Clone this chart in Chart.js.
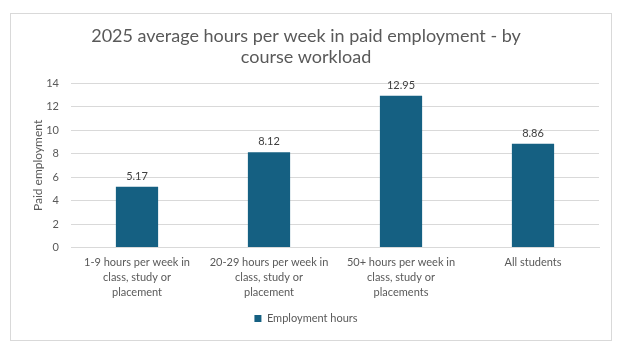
<!DOCTYPE html>
<html>
<head>
<meta charset="utf-8">
<script src="https://cdn.jsdelivr.net/npm/chart.js@4/dist/chart.umd.min.js"></script>
<style>
  body { margin: 0; background: #fff; }
  #box {
    position: absolute; left: 10px; top: 13px;
    width: 600px; height: 326px;
    border: 1px solid #d9d9d9; background: #fff;
  }
</style>
</head>
<body>
<div id="box"><canvas id="myChart" width="600" height="326"></canvas></div>
<script>
const categories = [
    ['1-9 hours per week in', 'class, study or', 'placement'],
    ['20-29 hours per week in', 'class, study or', 'placement'],
    ['50+ hours per week in', 'class, study or', 'placements'],
    'All students'
];
const employmentHours = [5.17, 8.12, 12.95, 8.86];
const yTicks = [0, 2, 4, 6, 8, 10, 12, 14];

const fontFamily = 'Lato, "Open Sans", sans-serif';
const grey = '#595959';

// value labels above the bars
const barLabels = {
    id: 'barLabels',
    afterDatasetsDraw(chart) {
        const c = chart.ctx;
        c.save();
        c.fillStyle = '#404040';
        c.font = '11px ' + fontFamily;
        c.textAlign = 'center';
        c.textBaseline = 'bottom';
        chart.getDatasetMeta(0).data.forEach((bar, i) => {
            c.fillText(employmentHours[i].toFixed(2), bar.x, bar.y - 5);
        });
        c.restore();
    }
};

const ctx = document.getElementById('myChart');

new Chart(ctx, {
    type: 'bar',
    data: {
        labels: categories,
        datasets: [{
            label: 'Employment hours',
            data: employmentHours,
            backgroundColor: '#156082',
            barPercentage: 0.64,
            categoryPercentage: 0.5
        }]
    },
    options: {
        responsive: false,
        animation: false,
        layout: { padding: { left: 2, right: 12, top: 4, bottom: 6 } },
        plugins: {
            title: {
                display: true,
                text: ['2025 average hours per week in paid employment - by', 'course workload'],
                color: grey,
                font: { family: fontFamily, size: 18, weight: 'normal', lineHeight: 1.15 },
                padding: { top: 8, bottom: 16 }
            },
            legend: {
                position: 'bottom',
                labels: {
                    color: grey,
                    font: { family: fontFamily, size: 11 },
                    boxWidth: 7,
                    boxHeight: 7,
                    padding: 7
                }
            },
            tooltip: { enabled: false }
        },
        scales: {
            x: {
                grid: { display: false },
                border: { color: '#d9d9d9' },
                afterFit(axis) { axis.height += 6; },
                ticks: {
                    color: grey,
                    font: { family: fontFamily, size: 11, lineHeight: 1.35 },
                    maxRotation: 0,
                    autoSkip: false,
                    padding: 0
                }
            },
            y: {
                min: 0,
                max: 14,
                afterBuildTicks(axis) {
                    axis.ticks = yTicks.map(v => ({ value: v }));
                },
                afterFit(axis) { axis.width = 58; },
                grid: { color: '#d9d9d9', drawTicks: false },
                border: { display: false },
                ticks: {
                    color: grey,
                    font: { family: fontFamily, size: 11 },
                    padding: 12
                },
                title: {
                    display: true,
                    text: 'Paid employment',
                    color: grey,
                    font: { family: fontFamily, size: 12 },
                    padding: { top: 18, bottom: 2 }
                }
            }
        }
    },
    plugins: [barLabels]
});
</script>
</body>
</html>
